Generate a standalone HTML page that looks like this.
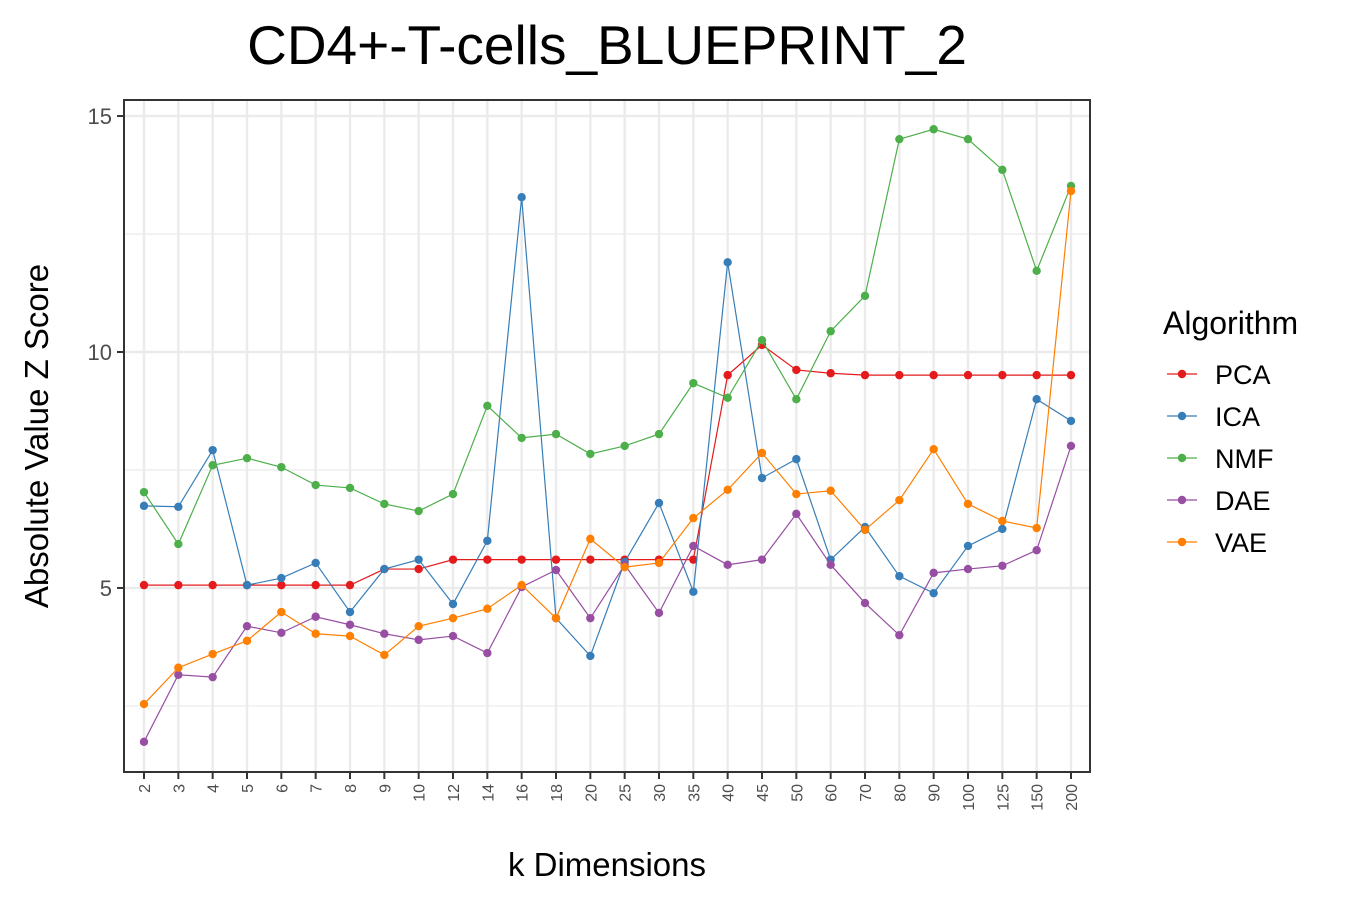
<!DOCTYPE html>
<html><head><meta charset="utf-8"><style>
body{margin:0;background:#fff;font-family:"Liberation Sans",Arial,sans-serif}
</style></head><body>
<svg id="chart" width="1350" height="900" xmlns="http://www.w3.org/2000/svg"></svg>
<script>
const categories=["2","3","4","5","6","7","8","9","10","12","14","16","18","20","25","30","35","40","45","50","60","70","80","90","100","125","150","200"];
const seriesNames=["PCA","ICA","NMF","DAE","VAE"];
const seriesColors=["#E41A1C","#377EB8","#4DAF4A","#984EA3","#FF7F00"];
const pcaValues=[5.06,5.06,5.06,5.06,5.06,5.06,5.06,5.4,5.4,5.6,5.6,5.6,5.6,5.6,5.6,5.6,5.6,9.51,10.15,9.62,9.55,9.51,9.51,9.51,9.51,9.51,9.51,9.51];
const icaValues=[6.74,6.72,7.92,5.06,5.21,5.53,4.49,5.4,5.6,4.66,6.0,13.28,4.36,3.56,5.55,6.8,4.92,11.9,7.33,7.73,5.6,6.29,5.25,4.89,5.89,6.25,9.0,8.54];
const nmfValues=[7.03,5.93,7.6,7.75,7.56,7.18,7.12,6.78,6.63,6.99,8.86,8.18,8.26,7.84,8.01,8.26,9.34,9.03,10.25,9.0,10.44,11.19,14.51,14.72,14.51,13.86,11.72,13.52];
const daeValues=[1.74,3.16,3.11,4.19,4.05,4.39,4.22,4.03,3.9,3.98,3.62,5.02,5.38,4.36,5.49,4.47,5.89,5.49,5.6,6.57,5.49,4.68,4.0,5.32,5.4,5.47,5.8,8.01];
const vaeValues=[2.54,3.31,3.6,3.88,4.49,4.03,3.98,3.58,4.19,4.36,4.56,5.06,4.36,6.04,5.44,5.53,6.48,7.08,7.86,6.99,7.06,6.23,6.86,7.94,6.78,6.42,6.27,13.41];
const yTicks=[5,10,15];
const yMinor=[2.5,7.5,12.5];
const allSeries=[pcaValues,icaValues,nmfValues,daeValues,vaeValues];

const NS="http://www.w3.org/2000/svg";
const svg=document.getElementById('chart');
const L=124,R=1090,T=100,B=772;
const yMin=1.1,yMax=15.34;
const xFirst=144,xLast=1071;
function xs(i){return xFirst+(xLast-xFirst)*i/(categories.length-1);}
function ys(v){return B-(v-yMin)/(yMax-yMin)*(B-T);}
function mk(tag,attrs,parent){const e=document.createElementNS(NS,tag);for(const k in attrs)e.setAttribute(k,attrs[k]);(parent||svg).appendChild(e);return e;}

yMinor.forEach(v=>{const l=mk('line',{x1:L,x2:R,y1:ys(v),y2:ys(v),stroke:'#ebebeb','stroke-width':1.2});

});
yTicks.forEach(v=>{const l=mk('line',{x1:L,x2:R,y1:ys(v),y2:ys(v),stroke:'#ebebeb','stroke-width':2.4});

});
categories.forEach((c,i)=>{const l=mk('line',{x1:xs(i),x2:xs(i),y1:T,y2:B,stroke:'#ebebeb','stroke-width':2.4});

});

allSeries.forEach((vals,s)=>{
  const g=mk('g',{});
  
  
  const p=mk('polyline',{points:vals.map((v,i)=>xs(i)+','+ys(v)).join(' '),fill:'none',stroke:seriesColors[s],'stroke-width':1.2},g);
  
  
  vals.forEach((v,i)=>{const c=mk('circle',{cx:xs(i),cy:ys(v),r:4.2,fill:seriesColors[s]},g);
  
  });
});

const bd=mk('rect',{x:L,y:T,width:R-L,height:B-T,fill:'none',stroke:'#333','stroke-width':2});



yTicks.forEach(v=>{
  const t=mk('line',{x1:L-7,x2:L,y1:ys(v),y2:ys(v),stroke:'#333','stroke-width':2});
  
  
  const tx=mk('text',{x:L-12,y:ys(v)+8,'text-anchor':'end','font-size':22,fill:'#4d4d4d'});
  tx.textContent=v;
  
  
});
categories.forEach((c,i)=>{
  const t=mk('line',{x1:xs(i),x2:xs(i),y1:B,y2:B+7,stroke:'#333','stroke-width':2});
  
  
  const tx=mk('text',{x:0,y:0,'text-anchor':'end','font-size':16,fill:'#4d4d4d',transform:`translate(${xs(i)+6},${B+12}) rotate(-90)`});
  tx.textContent=c;
  
  
});

let t=mk('text',{x:607,y:64,'text-anchor':'middle','font-size':55,fill:'#000'});t.textContent='CD4+-T-cells_BLUEPRINT_2';


t=mk('text',{x:607,y:876,'text-anchor':'middle','font-size':33,fill:'#000'});t.textContent='k Dimensions';


t=mk('text',{x:0,y:0,'text-anchor':'middle','font-size':33,fill:'#000',transform:'translate(48,436) rotate(-90)'});t.textContent='Absolute Value Z Score';



const lg=mk('g',{});


t=mk('text',{x:1163,y:334,'font-size':32,fill:'#000'},lg);t.textContent='Algorithm';


seriesNames.forEach((n,s)=>{
  const y=374+42*s;
  const e=mk('g',{},lg);
  
  
  mk('line',{x1:1167,x2:1197,y1:y,y2:y,stroke:seriesColors[s],'stroke-width':1.2},e);
  mk('circle',{cx:1182,cy:y,r:4.2,fill:seriesColors[s]},e);
  const tx=mk('text',{x:1215,y:y+10,'font-size':27,fill:'#000'},e);tx.textContent=n;
});
</script>
</body></html>
